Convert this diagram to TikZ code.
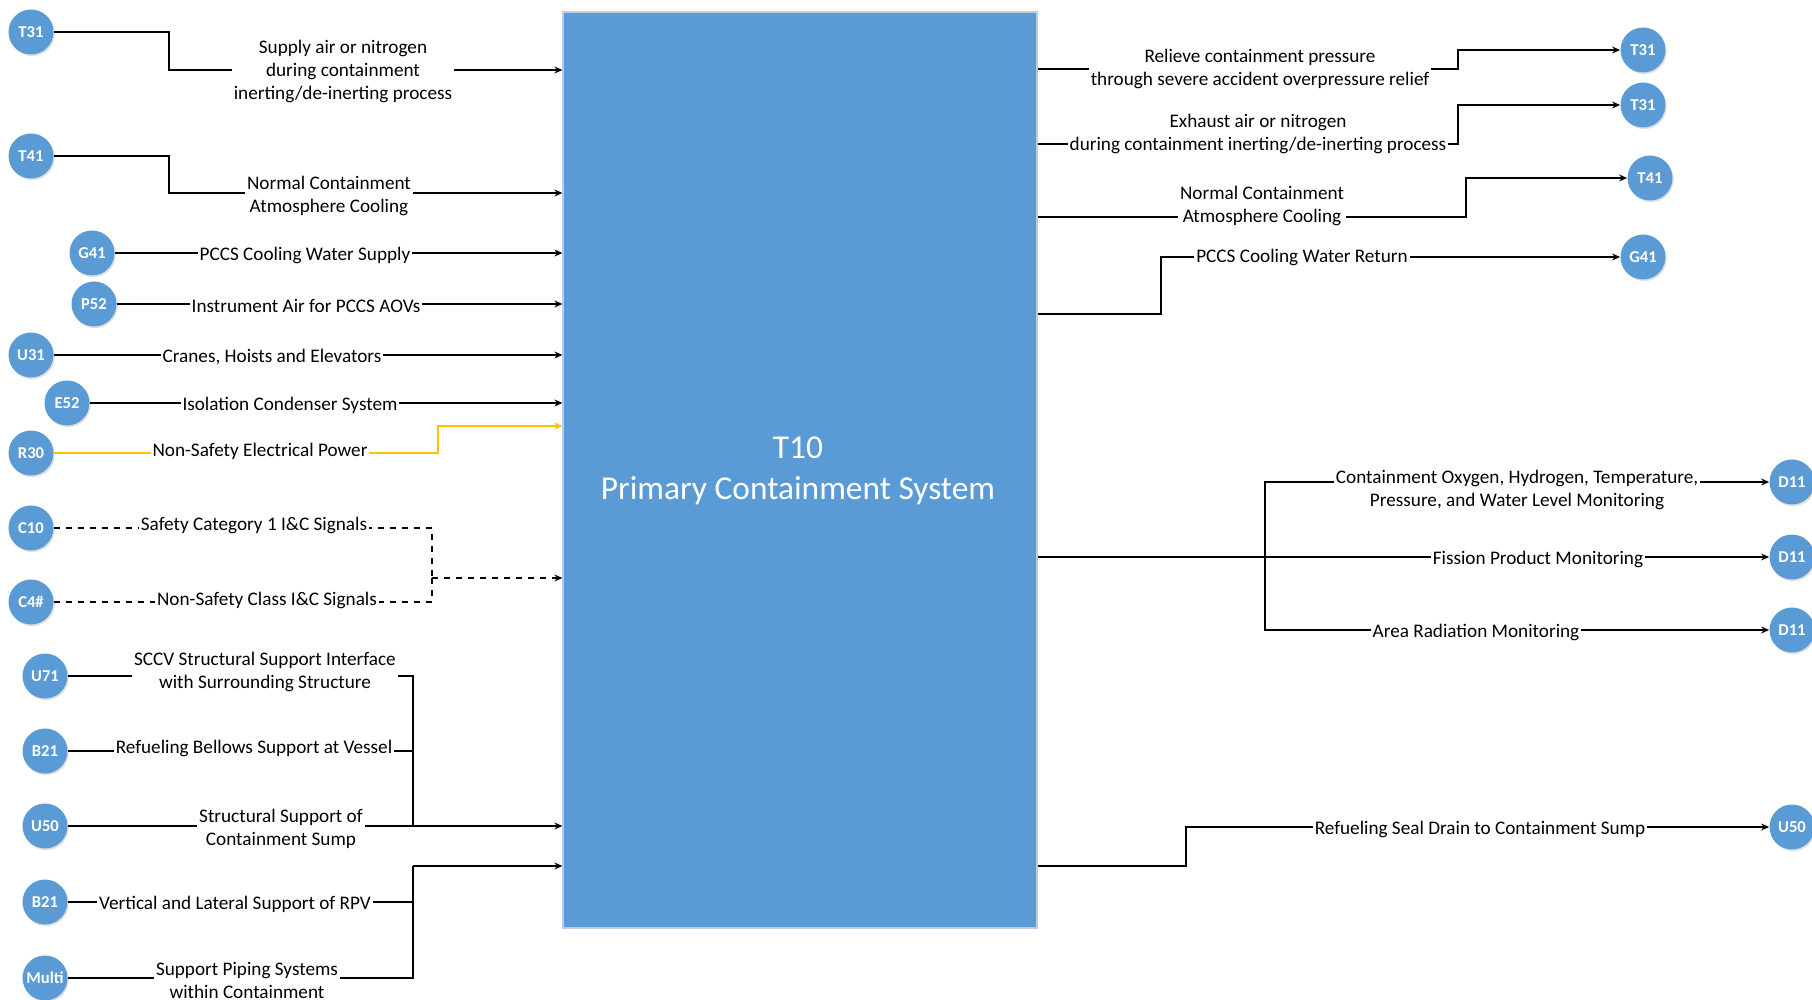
\documentclass[tikz,border=0pt]{standalone}
\usepackage{fontspec}
\setmainfont{Carlito}
\usetikzlibrary{arrows.meta, positioning, calc, shadows}
\definecolor{sysblue}{RGB}{91, 155, 213}
\definecolor{boxedge}{RGB}{190, 205, 225}
\definecolor{pwryellow}{RGB}{255, 192, 0}

\begin{document}
\begin{tikzpicture}[x=0.5pt, y=-0.5pt,
  sysnode/.style={circle, fill=sysblue, text=white, font=\fontsize{8.3}{9}\selectfont\bfseries, minimum size=22.5pt, inner sep=0pt, drop shadow={shadow xshift=0.6pt, shadow yshift=-0.8pt, opacity=0.25}},
  flow/.style={draw, line width=0.6pt, -{Stealth[length=4pt, width=3.5pt]}},
  link/.style={draw, line width=0.6pt},
  lbl/.style={fill=white, inner sep=1pt, align=center, yshift=-1pt, font=\fontsize{9.6}{11.5}\selectfont}
]
  \useasboundingbox (0,0) rectangle (1812,1000);
  \clip (0,0) rectangle (1812,1000);

  % main system box
  \node[draw=boxedge, fill=sysblue, line width=0.6pt, minimum width=237pt, minimum height=458pt, inner sep=0pt] (main) at (800,470) {};
  \node[text=white, align=center, font=\fontsize{16.7}{20.5}\selectfont] (title) at (798,471) {T10\\Primary Containment System};

  % left systems
  \node[sysnode] (lT31) at (31,32) {T31};
  \node[sysnode] (lT41) at (31,156) {T41};
  \node[sysnode] (lG41) at (92,253) {G41};
  \node[sysnode] (lP52) at (94,304) {P52};
  \node[sysnode] (lU31) at (31,355) {U31};
  \node[sysnode] (lE52) at (67,403) {E52};
  \node[sysnode] (lR30) at (31,453) {R30};
  \node[sysnode] (lC10) at (31,528) {C10};
  \node[sysnode] (lC4) at (31,602) {C4\#};
  \node[sysnode] (lU71) at (45,676) {U71};
  \node[sysnode] (lB21a) at (45,751) {B21};
  \node[sysnode] (lU50) at (45,826) {U50};
  \node[sysnode] (lB21b) at (45,902) {B21};
  \node[sysnode] (lMulti) at (45,978) {Multi};

  % right systems
  \node[sysnode] (rT31a) at (1643,50) {T31};
  \node[sysnode] (rT31b) at (1643,105) {T31};
  \node[sysnode] (rT41) at (1650,178) {T41};
  \node[sysnode] (rG41) at (1643,257) {G41};
  \node[sysnode] (rD11a) at (1792,482) {D11};
  \node[sysnode] (rD11b) at (1792,557) {D11};
  \node[sysnode] (rD11c) at (1792,630) {D11};
  \node[sysnode] (rU50) at (1792,827) {U50};

  % left inputs
  \coordinate (a1) at (169,70);
  \draw[flow] (lT31) -| (a1) -- (a1 -| main.west);
  \coordinate (a2) at (169,193);
  \draw[flow] (lT41) -| (a2) -- (a2 -| main.west);
  \draw[flow] (lG41) -- (lG41 -| main.west);
  \draw[flow] (lP52) -- (lP52 -| main.west);
  \draw[flow] (lU31) -- (lU31 -| main.west);
  \draw[flow] (lE52) -- (lE52 -| main.west);
  \coordinate (a7) at (438,426);
  \draw[flow, pwryellow] (lR30) -| (a7) -- (a7 -| main.west);
  \coordinate (a8) at (432,578);
  \draw[link, dashed] (lC10) -| (a8);
  \draw[link, dashed] (lC4) -| (a8);
  \draw[flow, dashed] (a8) -- (a8 -| main.west);
  \coordinate (a10) at (413,826);
  \draw[link] (lU71) -| (a10);
  \draw[link] (lB21a) -| (a10);
  \draw[link] (lU50) -| (a10);
  \draw[flow] (a10) -- (a10 -| main.west);
  \coordinate (a13) at (413,866);
  \draw[link] (lB21b) -| (a13);
  \draw[link] (lMulti) -| (a13);
  \draw[flow] (a13) -- (a13 -| main.west);

  \node[lbl] (tlT31) at (343,69) {Supply air or nitrogen\\during containment\\inerting/de-inerting process};
  \node[lbl] (tlT41) at (329,194) {Normal Containment\\Atmosphere Cooling};
  \node[lbl] (tlG41) at (305,253) {PCCS Cooling Water Supply};
  \node[lbl] (tlP52) at (306,304) {Instrument Air for PCCS AOVs};
  \node[lbl] (tlU31) at (272,355) {Cranes, Hoists and Elevators};
  \node[lbl] (tlE52) at (290,403) {Isolation Condenser System};
  \node[lbl] (tlR30) at (260,449) {Non-Safety Electrical Power};
  \node[lbl] (tlC10) at (254,523) {Safety Category 1 I\&C Signals};
  \node[lbl] (tlC4) at (267,598) {Non-Safety Class I\&C Signals};
  \node[lbl] (tlU71) at (265,670) {SCCV Structural Support Interface\\with Surrounding Structure};
  \node[lbl] (tlB21a) at (254,746) {Refueling Bellows Support at Vessel};
  \node[lbl] (tlU50) at (281,827) {Structural Support of\\Containment Sump};
  \node[lbl] (tlB21b) at (235,902) {Vertical and Lateral Support of RPV};
  \node[lbl] (tlMulti) at (247,978) {Support Piping Systems\\within Containment};

  % right outputs
  \coordinate (b1) at (1458,69);
  \draw[flow] (main.east |- b1) -- (b1) |- (rT31a);
  \coordinate (b2) at (1458,144);
  \draw[flow] (main.east |- b2) -- (b2) |- (rT31b);
  \coordinate (b3) at (1466,217);
  \draw[flow] (main.east |- b3) -- (b3) |- (rT41);
  \coordinate (b4) at (1161,314);
  \draw[flow] (main.east |- b4) -- (b4) |- (rG41);
  \coordinate (b5) at (1265,557);
  \draw[link] (main.east |- b5) -- (b5);
  \draw[flow] (b5) |- (rD11a);
  \draw[flow] (b5) -- (rD11b);
  \draw[flow] (b5) |- (rD11c);
  \coordinate (b6) at (1186,866);
  \draw[flow] (main.east |- b6) -- (b6) |- (rU50);

  \node[lbl] (trT31a) at (1260,67) {Relieve containment pressure\\through severe accident overpressure relief};
  \node[lbl] (trT31b) at (1258,132) {Exhaust air or nitrogen\\during containment inerting/de-inerting process};
  \node[lbl] (trT41) at (1262,204) {Normal Containment\\Atmosphere Cooling};
  \node[lbl] (trG41) at (1302,255) {PCCS Cooling Water Return};
  \node[lbl] (trD11a) at (1517,488) {Containment Oxygen, Hydrogen, Temperature,\\Pressure, and Water Level Monitoring};
  \node[lbl] (trD11b) at (1538,557) {Fission Product Monitoring};
  \node[lbl] (trD11c) at (1476,630) {Area Radiation Monitoring};
  \node[lbl] (trU50) at (1480,827) {Refueling Seal Drain to Containment Sump};
\end{tikzpicture}
\end{document}
